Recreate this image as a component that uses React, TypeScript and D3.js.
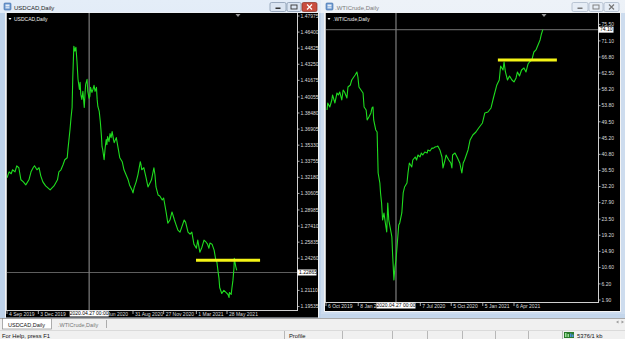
import React from "react";
import * as d3 from "d3";

const FONT = "'Liberation Sans', Arial, sans-serif";
const parseDate = d3.timeParse("%Y-%m-%d");

// ---------------- USDCAD daily closes ----------------
const usdcadDates = [
  "2019-09-04","2019-09-10","2019-09-16","2019-09-20","2019-09-27","2019-10-02","2019-10-08","2019-10-14","2019-10-21","2019-10-28",
  "2019-11-06","2019-11-12","2019-11-18","2019-11-22","2019-11-29","2019-12-05","2019-12-10","2019-12-16","2019-12-24","2020-01-06",
  "2020-01-17","2020-01-27","2020-01-31","2020-02-06","2020-02-12","2020-02-17","2020-02-24","2020-02-26","2020-03-03","2020-03-06",
  "2020-03-09","2020-03-11","2020-03-14","2020-03-17","2020-03-20","2020-03-23","2020-03-26","2020-03-30","2020-04-01","2020-04-03",
  "2020-04-06","2020-04-09","2020-04-13","2020-04-15","2020-04-17","2020-04-21","2020-04-23","2020-04-27","2020-04-29","2020-05-01",
  "2020-05-05","2020-05-08","2020-05-11","2020-05-14","2020-05-18","2020-05-20","2020-05-22","2020-05-26","2020-05-29","2020-06-01",
  "2020-06-03","2020-06-05","2020-06-09","2020-06-12","2020-06-15","2020-06-17","2020-06-19","2020-06-23","2020-06-26","2020-06-29",
  "2020-07-02","2020-07-06","2020-07-08","2020-07-14","2020-07-20","2020-07-24","2020-07-31","2020-08-05","2020-08-11","2020-08-17",
  "2020-08-21","2020-08-28","2020-08-31","2020-09-03","2020-09-09","2020-09-14","2020-09-21","2020-09-23","2020-09-25","2020-10-01",
  "2020-10-07","2020-10-13","2020-10-19","2020-10-23","2020-10-30","2020-11-02","2020-11-05","2020-11-11","2020-11-16","2020-11-23",
  "2020-11-27","2020-12-04","2020-12-09","2020-12-15","2020-12-21","2020-12-28","2021-01-01","2021-01-07","2021-01-13","2021-01-19",
  "2021-01-25","2021-01-29","2021-02-05","2021-02-11","2021-02-16","2021-02-22","2021-03-01","2021-03-05","2021-03-11","2021-03-17",
  "2021-03-23","2021-03-29","2021-04-02","2021-04-06","2021-04-09","2021-04-15","2021-04-21","2021-04-26","2021-04-29","2021-05-03",
  "2021-05-05","2021-05-07","2021-05-13","2021-05-19","2021-05-25","2021-05-31","2021-06-03","2021-06-04","2021-06-09","2021-06-11",
  "2021-06-14","2021-06-17","2021-06-18","2021-06-22","2021-06-25"
];
const usdcadValues = [
  1.3213,1.3272,1.3253,1.3292,1.3272,1.3331,1.3312,1.3194,1.3174,1.3144,
  1.3194,1.3272,1.3312,1.3331,1.3292,1.3312,1.3233,1.3174,1.3134,1.3095,
  1.3134,1.3194,1.3272,1.3292,1.3341,1.3390,1.3410,1.3489,1.3686,1.3804,
  1.3902,1.4197,1.4502,1.4453,1.4492,1.4355,1.4178,1.4079,1.4148,1.4030,
  1.3981,1.4060,1.3902,1.4030,1.4128,1.4178,1.4060,1.3991,1.4010,1.4099,
  1.4050,1.4079,1.4119,1.4060,1.4099,1.3981,1.3912,1.3863,1.3764,1.3636,
  1.3518,1.3489,1.3390,1.3508,1.3587,1.3538,1.3617,1.3567,1.3646,1.3607,
  1.3666,1.3587,1.3558,1.3607,1.3489,1.3410,1.3371,1.3292,1.3243,1.3194,
  1.3144,1.3095,1.3066,1.3115,1.3174,1.3243,1.3371,1.3341,1.3292,1.3312,
  1.3223,1.3124,1.3164,1.3194,1.3312,1.3243,1.3124,1.3046,1.3036,1.2997,
  1.3016,1.2879,1.2770,1.2800,1.2879,1.2800,1.2760,1.2701,1.2682,1.2741,
  1.2800,1.2780,1.2682,1.2662,1.2682,1.2564,1.2524,1.2603,1.2485,1.2534,
  1.2603,1.2583,1.2564,1.2524,1.2574,1.2564,1.2505,1.2406,1.2387,1.2278,
  1.2229,1.2140,1.2081,1.2111,1.2091,1.2071,1.2042,1.2091,1.2071,1.2130,
  1.2209,1.2327,1.2426,1.2347,1.2307
];
const usdcadPriceTicks = [1.47975,1.464,1.44825,1.4325,1.41675,1.40055,1.3848,1.36905,1.3533,1.33755,1.3218,1.30605,1.28985,1.2741,1.25835,1.2426,1.2111,1.19535];
const usdcadTickDates = ["2019-09-04","2019-12-03","2020-06-01","2020-08-31","2020-11-27","2021-03-01","2021-05-28"];
const usdcadTickLabels = ["4 Sep 2019","3 Dec 2019","1 Jun 2020","31 Aug 2020","27 Nov 2020","1 Mar 2021","28 May 2021"];
const usdcadLastPrice = 1.22865;
const usdcadLevel = 1.2406;
const usdcadLevelDates = ["2021-02-28","2021-08-31"];

// ---------------- WTI crude daily closes ----------------
const wtiDates = [
  "2019-10-09","2019-10-11","2019-10-17","2019-10-23","2019-10-25","2019-11-01","2019-11-07","2019-11-11","2019-11-15","2019-11-21",
  "2019-11-25","2019-11-29","2019-12-06","2019-12-09","2019-12-16","2019-12-20","2019-12-24","2019-12-30","2020-01-04","2020-01-07",
  "2020-01-10","2020-01-16","2020-01-22","2020-01-25","2020-01-31","2020-02-03","2020-02-08","2020-02-14","2020-02-17","2020-02-20",
  "2020-02-22","2020-02-28","2020-03-03","2020-03-06","2020-03-11","2020-03-13","2020-03-16","2020-03-19","2020-03-23","2020-03-27",
  "2020-03-31","2020-04-03","2020-04-06","2020-04-13","2020-04-15","2020-04-17","2020-04-21","2020-04-24","2020-04-27","2020-04-30",
  "2020-05-05","2020-05-08","2020-05-14","2020-05-18","2020-05-22","2020-05-29","2020-06-01","2020-06-05","2020-06-12","2020-06-15",
  "2020-06-22","2020-06-26","2020-06-30","2020-07-06","2020-07-10","2020-07-14","2020-07-20","2020-07-27","2020-07-29","2020-08-04",
  "2020-08-10","2020-08-13","2020-08-19","2020-08-25","2020-08-27","2020-09-02","2020-09-08","2020-09-11","2020-09-17","2020-09-20",
  "2020-09-23","2020-09-28","2020-10-04","2020-10-07","2020-10-09","2020-10-16","2020-10-22","2020-10-26","2020-10-30","2020-11-05",
  "2020-11-09","2020-11-13","2020-11-20","2020-11-23","2020-11-29","2020-12-07","2020-12-16","2020-12-24","2021-01-04","2021-01-11",
  "2021-01-20","2021-01-29","2021-02-05","2021-02-15","2021-02-22","2021-02-26","2021-03-05","2021-03-08","2021-03-12","2021-03-18",
  "2021-03-24","2021-03-31","2021-04-06","2021-04-12","2021-04-16","2021-04-22","2021-04-28","2021-05-05","2021-05-11","2021-05-17",
  "2021-05-21","2021-05-28","2021-06-03","2021-06-09","2021-06-15","2021-06-21","2021-06-25","2021-06-29"
];
const wtiValues = [
  52.65,54.52,53.45,55.32,56.66,54.52,57.19,56.66,57.46,55.32,
  57.99,57.46,55.85,58.79,59.33,60.66,61.20,62.00,62.80,61.46,
  58.79,57.99,57.19,53.45,52.65,49.98,50.78,51.85,53.18,53.45,
  49.98,47.31,46.77,35.82,33.15,30.48,27.81,23.27,25.14,22.47,
  20.06,27.81,23.27,19.80,18.73,14.45,7.24,10.71,12.58,16.06,
  21.93,22.47,25.14,30.48,32.08,33.15,35.82,38.49,37.42,39.29,
  40.10,39.29,40.63,40.10,41.16,40.63,41.43,41.16,41.97,41.70,
  42.50,42.40,42.77,42.90,43.03,41.97,40.10,37.16,39.29,40.63,
  40.10,39.29,38.49,37.16,40.63,41.16,40.10,39.29,38.49,35.82,
  38.49,39.29,41.16,41.97,44.64,45.97,46.77,47.84,49.18,51.85,
  52.11,53.18,55.85,59.33,60.66,64.40,63.33,65.47,62.80,60.66,
  61.73,60.66,60.13,61.20,62.80,61.73,63.33,63.87,62.80,64.94,
  65.47,66.00,68.14,68.68,70.01,71.35,72.95,74.10
];
const wtiPriceTicks = [75.5,71.1,66.8,62.5,58.2,53.8,49.5,45.2,40.8,36.5,32.2,27.9,23.5,19.2,14.9,10.6,6.2,1.9];
const wtiTickDates = ["2019-10-06","2020-01-08","2020-07-07","2020-10-05","2021-01-05","2021-04-06"];
const wtiTickLabels = ["6 Oct 2019","8 Jan 2020","7 Jul 2020","5 Oct 2020","5 Jan 2021","6 Apr 2021"];
const wtiLastPrice = 74.10;
const wtiLevel = 66.0;
const wtiLevelDates = ["2021-02-18","2021-08-09"];

const crosshairDate = "2020-04-27";
const crosshairLabel = "2020.04.27 00:00";

type PanelProps = {
  id: string;
  name: string;
  bg: { x: number; y: number; w: number; h: number };
  plot: { l: number; r: number; t: number; b: number };
  anchorDates: string[];
  anchorPx: number[];
  yDomain: number[];
  yRange: number[];
  dates: string[];
  values: number[];
  priceTicks: number[];
  fmt: (v: number) => string;
  tickDates: string[];
  tickLabels: string[];
  xLabelY: number;
  dateBoxY: number;
  last: number;
  level: number;
  levelDates: string[];
  shiftX: number;
  priceBoxW: number;
};

function Panel(p: PanelProps) {
  const x = d3.scaleTime().domain(p.anchorDates.map((d) => parseDate(d) as Date)).range(p.anchorPx);
  const y = d3.scaleLinear().domain(p.yDomain).range(p.yRange);
  const pts: [Date, number][] = p.dates.map((d, i) => [parseDate(d) as Date, p.values[i]]);
  const path = d3.line<[Date, number]>().x((d) => x(d[0])).y((d) => y(d[1]))(pts) || "";
  const { l, r, t, b } = p.plot;
  const cx = x(parseDate(crosshairDate) as Date);
  const lastY = y(p.last);
  const lvY = y(p.level);
  const lv0 = x(parseDate(p.levelDates[0]) as Date);
  const lv1 = x(parseDate(p.levelDates[1]) as Date);
  const clipId = `clip-${p.id}`;
  return (
    <g>
      <defs>
        <clipPath id={clipId}>
          <rect x={l} y={t} width={r - l} height={b - t} />
        </clipPath>
      </defs>
      <rect x={p.bg.x} y={p.bg.y} width={p.bg.w} height={p.bg.h} fill="#000" />
      <g clipPath={`url(#${clipId})`}>
        <line x1={l} x2={r} y1={lastY} y2={lastY} stroke="#5e5e5e" strokeWidth={1.2} />
        <line x1={cx} x2={cx} y1={t} y2={b} stroke="#7e7e7e" strokeWidth={1.2} />
        <path d={path} fill="none" stroke="#1fdc1f" strokeWidth={1.1} strokeLinejoin="round" />
        <line x1={lv0} x2={lv1} y1={lvY} y2={lvY} stroke="#f4f416" strokeWidth={3} />
      </g>
      {/* frame */}
      <line x1={l + 0.5} x2={l + 0.5} y1={t} y2={b} stroke="#bdbdbd" strokeWidth={1} />
      <line x1={l} x2={r} y1={b + 0.5} y2={b + 0.5} stroke="#d0d0d0" strokeWidth={1} />
      <line x1={r + 0.5} x2={r + 0.5} y1={t} y2={b + 1} stroke="#d0d0d0" strokeWidth={1} />
      {/* price ticks */}
      {p.priceTicks.map((v) => (
        <g key={`yt${v}`}>
          <line x1={r} x2={r + 2.5} y1={y(v)} y2={y(v)} stroke="#d0d0d0" strokeWidth={0.8} />
          <text x={r + 3.5} y={y(v)} dy="0.35em" fontSize={5} fill="#dcdcdc" fontFamily={FONT}>
            {p.fmt(v)}
          </text>
        </g>
      ))}
      {/* time ticks */}
      {p.tickDates.map((d, i) => {
        const tx = x(parseDate(d) as Date);
        return (
          <g key={`xt${d}`}>
            <line x1={tx} x2={tx} y1={b} y2={b + 4} stroke="#d0d0d0" strokeWidth={0.8} />
            <text x={tx + 2} y={p.xLabelY} fontSize={5} fill="#dcdcdc" fontFamily={FONT}>
              {p.tickLabels[i]}
            </text>
          </g>
        );
      })}
      {/* header */}
      <polygon points={`${l + 2.5},${t + 5} ${l + 5.5},${t + 5} ${l + 4},${t + 7}`} fill="#fff" />
      <text x={l + 8} y={t + 8} fontSize={5} fill="#f0f0f0" fontFamily={FONT}>
        {p.name}
      </text>
      {/* chart shift marker */}
      <polygon points={`${p.shiftX - 2.5},${t + 1} ${p.shiftX + 2.5},${t + 1} ${p.shiftX},${t + 4}`} fill="#9a9a9a" />
      {/* crosshair date box */}
      <rect x={cx - 19.5} y={p.dateBoxY} width={39} height={6} fill="#fff" />
      <text x={cx} y={p.dateBoxY + 4.8} fontSize={5} textAnchor="middle" fill="#000" fontFamily={FONT}>
        {crosshairLabel}
      </text>
      {/* last price box */}
      <rect x={r + 0.5} y={lastY - 3} width={p.priceBoxW} height={6} fill="#fff" />
      <text x={r + 2} y={lastY} dy="0.35em" fontSize={5} fill="#000" fontFamily={FONT}>
        {p.fmt(p.last)}
      </text>
    </g>
  );
}

function WinButtons({ x, active }: { x: number; active: boolean }) {
  const base = active ? "#dbe5f2" : "#e6edf6";
  const stroke = active ? "#7d8fa8" : "#a5b2c4";
  const glyph = active ? "#333" : "#777";
  return (
    <g>
      <rect x={x} y={2.5} width={16} height={9} rx={1.5} fill={base} stroke={stroke} strokeWidth={0.7} />
      <rect x={x + 5.5} y={7.5} width={5} height={1.5} fill={glyph} />
      <rect x={x + 17} y={2.5} width={14} height={9} rx={1.5} fill={base} stroke={stroke} strokeWidth={0.7} />
      <rect x={x + 21} y={5} width={6} height={4} fill="none" stroke={glyph} strokeWidth={0.9} />
      <rect x={x + 32} y={2.5} width={15} height={9} rx={1.5} fill={active ? "#c94d3f" : base} stroke={active ? "#8a2f24" : stroke} strokeWidth={0.7} />
      <path d={`M${x + 37},${4.5} L${x + 42},${9.5} M${x + 42},${4.5} L${x + 37},${9.5}`} stroke={active ? "#fff" : glyph} strokeWidth={1.2} />
    </g>
  );
}

function TitleIcon({ x }: { x: number }) {
  return (
    <g>
      <rect x={x} y={3} width={7} height={7} rx={1} fill="#6f9bd1" stroke="#3d6ca8" strokeWidth={0.6} />
      <rect x={x + 1.5} y={4.5} width={4} height={2} fill="#e8f0fa" />
      <rect x={x + 1.5} y={7.2} width={4} height={1.2} fill="#e8f0fa" />
    </g>
  );
}

export default function App() {
  const W = 625;
  const H = 339;
  const statusSeps = [284, 342, 392, 427, 462, 495, 528, 562];
  return (
    <svg width={W} height={H} style={{ position: "absolute", left: 0, top: 0 }} fontFamily={FONT}>
      <defs>
        <linearGradient id="titleA" x1="0" y1="0" x2="0" y2="1">
          <stop offset="0" stopColor="#e4edf8" />
          <stop offset="1" stopColor="#c9dbef" />
        </linearGradient>
        <linearGradient id="titleI" x1="0" y1="0" x2="0" y2="1">
          <stop offset="0" stopColor="#edf2f8" />
          <stop offset="1" stopColor="#d8e3ef" />
        </linearGradient>
      </defs>
      <rect x={0} y={0} width={W} height={H} fill="#c4d6eb" />
      {/* left window */}
      <rect x={0} y={0} width={321} height={318} fill="url(#titleA)" />
      <rect x={0} y={13} width={321} height={305} fill="#bfd3ea" />
      <rect x={5} y={12.5} width={314} height={305} fill="#f4f4f4" />
      <TitleIcon x={4} />
      <text x={14} y={9.8} fontSize={6} fill="#1e1e1e" fontFamily={FONT}>USDCAD,Daily</text>
      <WinButtons x={270} active={true} />
      {/* right window */}
      <rect x={321} y={0} width={304} height={314} fill="url(#titleI)" />
      <rect x={321} y={13} width={304} height={301} fill="#cddcee" />
      <rect x={324} y={12.5} width={297} height={299.5} fill="#f4f4f4" />
      <TitleIcon x={326} />
      <text x={335} y={9.8} fontSize={6} fill="#7a7a7a" fontFamily={FONT}>.WTICrude,Daily</text>
      <WinButtons x={572} active={false} />

      <Panel
        id="usdcad"
        name="USDCAD,Daily"
        bg={{ x: 6, y: 13, w: 312, h: 304.5 }}
        plot={{ l: 6, r: 297, t: 13, b: 310 }}
        anchorDates={["2019-09-04", "2021-05-28"]}
        anchorPx={[7, 227]}
        yDomain={[1.19535, 1.47975]}
        yRange={[306.5, 16]}
        dates={usdcadDates}
        values={usdcadValues}
        priceTicks={usdcadPriceTicks}
        fmt={d3.format(".5f")}
        tickDates={usdcadTickDates}
        tickLabels={usdcadTickLabels}
        xLabelY={316}
        dateBoxY={310.5}
        last={usdcadLastPrice}
        level={usdcadLevel}
        levelDates={usdcadLevelDates}
        shiftX={238}
        priceBoxW={19}
      />
      <Panel
        id="wti"
        name=".WTICrude,Daily"
        bg={{ x: 325, y: 13, w: 295, h: 298 }}
        plot={{ l: 325, r: 598, t: 13, b: 302 }}
        anchorDates={["2019-10-06", "2021-04-06"]}
        anchorPx={[326, 514]}
        yDomain={[1.9, 66.8]}
        yRange={[300, 57]}
        dates={wtiDates}
        values={wtiValues}
        priceTicks={wtiPriceTicks}
        fmt={d3.format(".2f")}
        tickDates={wtiTickDates}
        tickLabels={wtiTickLabels}
        xLabelY={308.3}
        dateBoxY={302.5}
        last={wtiLastPrice}
        level={wtiLevel}
        levelDates={wtiLevelDates}
        shiftX={544}
        priceBoxW={15}
      />

      {/* tab bar */}
      <rect x={0} y={318} width={W} height={12} fill="#f0f0f0" />
      <line x1={0} x2={W} y1={318.5} y2={318.5} stroke="#a9a9a9" strokeWidth={1} />
      <rect x={2.5} y={318.5} width={49} height={10.5} fill="#fff" stroke="#8c8c8c" strokeWidth={0.7} />
      <text x={8} y={326.5} fontSize={5.5} fill="#111" fontFamily={FONT}>USDCAD,Daily</text>
      <text x={58} y={326.5} fontSize={5.5} fill="#777" fontFamily={FONT}>.WTICrude,Daily</text>
      <line x1={106.5} x2={106.5} y1={320} y2={328} stroke="#9a9a9a" strokeWidth={0.8} />
      <polygon points="616,322 618.5,320.5 618.5,323.5" fill="#9a9a9a" />
      <polygon points="624,322 621.5,320.5 621.5,323.5" fill="#9a9a9a" />
      {/* status bar */}
      <rect x={0} y={330} width={W} height={9} fill="#f0f0f0" />
      <line x1={0} x2={W} y1={330.5} y2={330.5} stroke="#dadada" strokeWidth={1} />
      <text x={2} y={337.5} fontSize={5.8} fill="#111" fontFamily={FONT}>For Help, press F1</text>
      <text x={289} y={337.5} fontSize={5.8} fill="#111" fontFamily={FONT}>Profile</text>
      {statusSeps.map((sx) => (
        <line key={sx} x1={sx + 0.5} x2={sx + 0.5} y1={331} y2={339} stroke="#a8a8a8" strokeWidth={0.8} />
      ))}
      <g>
        <rect x={564} y={332} width={10} height={6} fill="#2b7a2b" />
        <rect x={565} y={333} width={1.5} height={4} fill="#9be09b" />
        <rect x={567.5} y={334} width={1.5} height={3} fill="#9be09b" />
        <rect x={570} y={333.5} width={1.5} height={3.5} fill="#4a8fd8" />
        <rect x={572} y={334.5} width={1.5} height={2.5} fill="#4a8fd8" />
      </g>
      <text x={577} y={337.5} fontSize={5.8} fill="#111" fontFamily={FONT}>5376/1 kb</text>
    </svg>
  );
}
